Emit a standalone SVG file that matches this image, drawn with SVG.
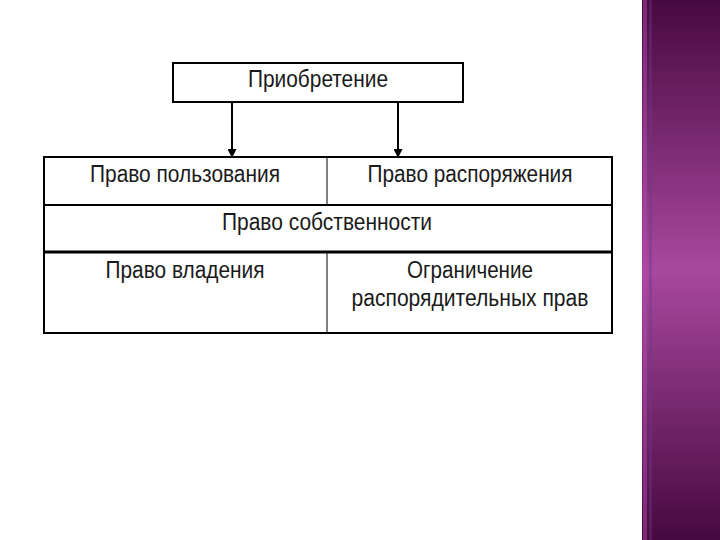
<svg xmlns="http://www.w3.org/2000/svg" width="720" height="540" viewBox="0 0 720 540">
<defs>
<linearGradient id="band" x1="0" y1="0" x2="0" y2="1">
<stop offset="0" stop-color="#480940"/>
<stop offset="0.5" stop-color="#a8489e"/>
<stop offset="1" stop-color="#470940"/>
</linearGradient>
<marker id="arr" viewBox="0 0 10 10" refX="9" refY="5" markerWidth="10" markerHeight="9" orient="auto" markerUnits="userSpaceOnUse">
<path d="M0,0 L10,5 L0,10 z" fill="#000"/>
</marker>
<style>
text{font-family:"Liberation Sans",Arial,sans-serif;font-size:23px;fill:#1a1a1a;text-anchor:middle}
.box{fill:#fff;stroke:#000;stroke-width:2}
.ln{stroke:#000;fill:none}
</style>
</defs>
<rect width="720" height="540" fill="#fff"/>
<g id="band-deco">
<rect x="642" y="0" width="78" height="540" fill="url(#band)"/>
<rect x="643" y="0" width="4" height="540" fill="#b04aa8" opacity="0.5"/>
<rect x="649" y="0" width="3" height="540" fill="#6a3a8a" opacity="0.4"/>
</g>
<g id="connectors">
<line class="ln" x1="232" y1="102" x2="232" y2="157" stroke-width="2" marker-end="url(#arr)"/>
<line class="ln" x1="398" y1="102" x2="398" y2="157" stroke-width="2" marker-end="url(#arr)"/>
</g>
<g id="acquisition">
<rect class="box" x="173" y="63" width="290" height="39"/>
<text x="318" y="87" textLength="140" lengthAdjust="spacingAndGlyphs">Приобретение</text>
</g>
<g id="table">
<rect class="box" x="44" y="157" width="568" height="176"/>
<line class="ln" x1="44" y1="205" x2="612" y2="205" stroke-width="2"/>
<line class="ln" x1="44" y1="252" x2="612" y2="252" stroke-width="3"/>
<line class="ln" x1="327" y1="157" x2="327" y2="205" stroke-width="1"/>
<line class="ln" x1="327" y1="252" x2="327" y2="333" stroke-width="1"/>
</g>
<g id="use-right"><text x="185" y="182" textLength="190" lengthAdjust="spacingAndGlyphs">Право пользования</text></g>
<g id="disposal-right"><text x="470" y="182" textLength="205" lengthAdjust="spacingAndGlyphs">Право распоряжения</text></g>
<g id="ownership"><text x="327" y="230" textLength="210" lengthAdjust="spacingAndGlyphs">Право собственности</text></g>
<g id="possession-right"><text x="185" y="278" textLength="159" lengthAdjust="spacingAndGlyphs">Право владения</text></g>
<g id="restriction"><text x="470" y="278" textLength="126" lengthAdjust="spacingAndGlyphs">Ограничение</text><text x="470" y="306" textLength="237" lengthAdjust="spacingAndGlyphs">распорядительных прав</text></g>
</svg>
